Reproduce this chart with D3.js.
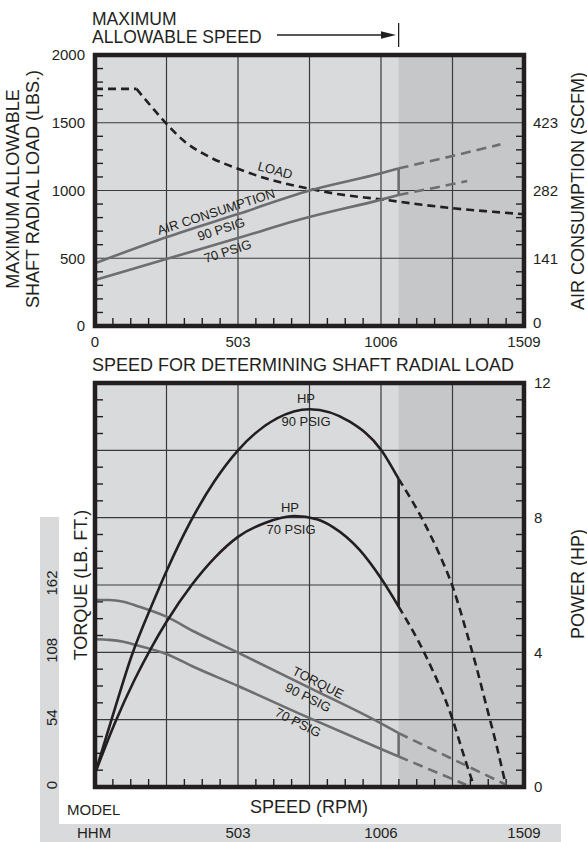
<!DOCTYPE html>
<html><head><meta charset="utf-8">
<script src="https://cdn.jsdelivr.net/npm/d3@7"></script>
<style>
body{margin:0;background:#fff}
svg{display:block}
text{font-family:"Liberation Sans",Arial,Helvetica,sans-serif;fill:#231f20}
</style>
</head><body><svg id="c" width="587" height="842"></svg>
<script>
// ---------- data ----------
const rpmTickLabels = [0, 503, 1006, 1509];
const loadTickLabels = [0, 500, 1000, 1500, 2000];
const scfmTickLabels = [0, 141, 282, 423];
const hpTickLabels = [0, 4, 8, 12];
const torqueTickLabels = [0, 54, 108, 162];
const modelRow = ["HHM", "503", "1006", "1509"];
const maxSpeed = 1068;

const loadFlatRpm = [0, 146];
const loadFlatVal = [1750, 1750];
const loadRpm = [146, 200, 250, 316, 400, 503, 600, 737, 850, 1006, 1150, 1258, 1400, 1509];
const loadVal = [1750, 1615, 1495, 1360, 1250, 1160, 1090, 1020, 975, 935, 895, 869, 843, 825];

const air90Rpm = [0, 251, 503, 755, 1006, 1068];
const air90Scfm = [130.6, 184.7, 233, 282, 318, 328];
const air90DashRpm = [1068, 1258, 1426];
const air90DashScfm = [328, 354, 378];
const air70Rpm = [0, 251, 503, 737, 1006, 1068];
const air70Scfm = [95.7, 139.4, 183, 224, 263, 272.7];
const air70DashRpm = [1068, 1258, 1309];
const air70DashScfm = [272.7, 295.5, 301.8];

const hp90Rpm = [0, 60, 129, 205, 251, 334, 420, 503, 640, 755, 896, 1006, 1068];
const hp90Val = [0.4, 2.05, 3.9, 5.5, 6.4, 7.85, 9.08, 10.0, 10.95, 11.22, 10.85, 10.02, 9.15];
const hp90DashRpm = [1068, 1153, 1212, 1258, 1307, 1342, 1377, 1412, 1441];
const hp90DashVal = [9.15, 7.93, 6.9, 5.95, 4.6, 3.55, 2.4, 1.25, 0.2];
const hp70Rpm = [0, 70, 140, 199, 251, 340, 420, 503, 600, 700, 780, 837, 930, 1006, 1068];
const hp70Val = [0.4, 1.9, 3.2, 4.15, 4.9, 6.0, 6.8, 7.43, 7.85, 8.05, 7.95, 7.72, 7.05, 6.2, 5.36];
const hp70DashRpm = [1068, 1165, 1258, 1295, 1331];
const hp70DashVal = [5.36, 3.87, 2.0, 1.0, 0.07];

const tq90Rpm = [0, 50, 100, 150, 251, 350, 503, 755, 1006, 1068];
const tq90Val = [150, 150, 148.5, 145, 136.6, 124.5, 107.8, 79.5, 51, 43.2];
const tq90DashRpm = [1068, 1446];
const tq90DashVal = [43.2, 1.8];
const tq70Rpm = [0, 50, 100, 150, 251, 350, 503, 737, 1006, 1068];
const tq70Val = [118.5, 118, 116.5, 113.5, 106.7, 96, 81, 57, 30.5, 24.5];
const tq70DashRpm = [1068, 1305];
const tq70DashVal = [24.5, 1.8];

// ---------- setup ----------
const svg = d3.select('#c');
const INK = '#231f20', GRAY = '#6d6e71';
const x = d3.scaleLinear().domain([0, 1509]).range([95, 524]);
const yLoad = d3.scaleLinear().domain([0, 2000]).range([326, 55]);
const yScfm = d3.scaleLinear().domain([0, 564]).range([326, 55]);
const yHp = d3.scaleLinear().domain([0, 12]).range([787, 383]);
const yTq = d3.scaleLinear().domain([0, 324]).range([787, 383]);

const xGrid = d3.range(1, 6).map(i => i * 1509 / 6);
const xMinor = d3.range(1, 24).filter(i => i % 4).map(i => i * 1509 / 24);

function panel(ys, hGrid, minor) {
  const top = ys.range()[1], bot = ys.range()[0];
  const g = svg.append('g');
  g.append('rect').attr('x', x(0)).attr('y', top).attr('width', x(1509) - x(0)).attr('height', bot - top).attr('fill', '#d9dadb');
  g.append('rect').attr('x', x(maxSpeed)).attr('y', top).attr('width', x(1509) - x(maxSpeed)).attr('height', bot - top).attr('fill', '#c6c7c9');
  g.selectAll('.vg').data(xGrid).join('line').attr('x1', d => x(d)).attr('x2', d => x(d)).attr('y1', top).attr('y2', bot).attr('stroke', '#3a3a3a').attr('stroke-width', 1.2);
  g.selectAll('.hg').data(hGrid).join('line').attr('x1', x(0)).attr('x2', x(1509)).attr('y1', d => ys(d)).attr('y2', d => ys(d)).attr('stroke', '#3a3a3a').attr('stroke-width', 1.2);
  g.selectAll('.lm').data(minor).join('line').attr('x1', x(0)).attr('x2', x(0) + 8).attr('y1', d => ys(d)).attr('y2', d => ys(d)).attr('stroke', INK).attr('stroke-width', 1.4);
  g.selectAll('.rm').data(minor).join('line').attr('x1', x(1509) - 8).attr('x2', x(1509)).attr('y1', d => ys(d)).attr('y2', d => ys(d)).attr('stroke', INK).attr('stroke-width', 1.4);
  g.selectAll('.bm').data(xMinor).join('line').attr('x1', d => x(d)).attr('x2', d => x(d)).attr('y1', bot - 8).attr('y2', bot).attr('stroke', INK).attr('stroke-width', 1.4);
}
function border(ys) {
  const top = ys.range()[1], bot = ys.range()[0];
  svg.append('rect').attr('x', x(0)).attr('y', top).attr('width', x(1509) - x(0)).attr('height', bot - top)
    .attr('fill', 'none').attr('stroke', INK).attr('stroke-width', 4.5);
}
function curve(xs, ys, xv, yv, color, dash, w, interp) {
  const pts = xv.map((v, i) => [v, yv[i]]);
  const line = d3.line().x(d => xs(d[0])).y(d => ys(d[1])).curve(interp || d3.curveMonotoneX);
  svg.append('path').attr('d', line(pts)).attr('fill', 'none').attr('stroke', color)
    .attr('stroke-width', w || 2.6).attr('stroke-dasharray', dash || null).attr('stroke-linecap', 'butt');
}
function vseg(xv, y1, y2, color) {
  svg.append('line').attr('x1', x(xv)).attr('x2', x(xv)).attr('y1', y1).attr('y2', y2).attr('stroke', color).attr('stroke-width', 2.6);
}
function label(txt, cx, cy, rot, size, anchor) {
  svg.append('text').attr('transform', `translate(${cx},${cy}) rotate(${rot || 0})`)
    .attr('text-anchor', anchor || 'middle').attr('font-size', size).text(txt);
}

// ---------- top panel ----------
panel(yLoad, [500, 1000, 1500], d3.range(100, 2000, 100).filter(v => v % 500));
curve(x, yLoad, loadFlatRpm, loadFlatVal, INK, '8,5', 2.6, d3.curveLinear);
curve(x, yLoad, loadRpm, loadVal, INK, '8,5', 2.6);
curve(x, yScfm, air90Rpm, air90Scfm, GRAY);
curve(x, yScfm, air70Rpm, air70Scfm, GRAY);
vseg(maxSpeed, yScfm(air90Scfm[air90Scfm.length - 1]), yScfm(air70Scfm[air70Scfm.length - 1]), GRAY);
curve(x, yScfm, air90DashRpm, air90DashScfm, GRAY, '10,6');
curve(x, yScfm, air70DashRpm, air70DashScfm, GRAY, '10,6');
border(yLoad);

label('LOAD', 274, 174.5, 15, 13);
label('AIR CONSUMPTION', 217.5, 216, -18, 13);
label('90 PSIG', 222.5, 233.5, -18, 13);
label('70 PSIG', 229, 255.5, -18, 13);

svg.selectAll('.tl').data(loadTickLabels).join('text').attr('x', 85).attr('y', d => yLoad(d)).attr('dy', '0.36em')
  .attr('text-anchor', 'end').attr('font-size', 15).text(d => d);
svg.selectAll('.tr').data(scfmTickLabels).join('text').attr('x', 533).attr('y', d => yScfm(d) - (d === 0 ? 3 : 0)).attr('dy', '0.36em')
  .attr('font-size', 15).text(d => d);
svg.selectAll('.tb').data(rpmTickLabels).join('text').attr('x', d => x(d)).attr('y', 347)
  .attr('text-anchor', 'middle').attr('font-size', 15).text(d => d);

label('MAXIMUM ALLOWABLE', 18.5, 189, -90, 18);
label('SHAFT RADIAL LOAD (LBS.)', 38.5, 189, -90, 18);
label('AIR CONSUMPTION (SCFM)', 584, 191, -90, 18);

svg.append('text').attr('x', 92).attr('y', 24.5).attr('font-size', 17.5).text('MAXIMUM');
svg.append('text').attr('x', 92).attr('y', 42.5).attr('font-size', 17.5).text('ALLOWABLE SPEED');
svg.append('line').attr('x1', 277).attr('x2', 384).attr('y1', 35).attr('y2', 35).attr('stroke', INK).attr('stroke-width', 1.3);
svg.append('path').attr('d', 'M381,31.3 L396,35 L381,38.7 Z').attr('fill', INK);
svg.append('line').attr('x1', x(maxSpeed)).attr('x2', x(maxSpeed)).attr('y1', 23).attr('y2', 47).attr('stroke', INK).attr('stroke-width', 1.3);

svg.append('text').attr('x', 92).attr('y', 371).attr('font-size', 18).text('SPEED FOR DETERMINING SHAFT RADIAL LOAD');

// ---------- bottom panel ----------
svg.append('rect').attr('x', 40).attr('y', 517).attr('width', 19).attr('height', 325).attr('fill', '#d9dadb');
svg.append('rect').attr('x', 40).attr('y', 824).attr('width', 521).attr('height', 18).attr('fill', '#d9dadb');

panel(yHp, [2, 4, 6, 8, 10], d3.range(0.5, 12, 0.5).filter(v => v % 2));
curve(x, yTq, tq90Rpm, tq90Val, GRAY);
curve(x, yTq, tq70Rpm, tq70Val, GRAY);
vseg(maxSpeed, yTq(tq90Val[tq90Val.length - 1]), yTq(tq70Val[tq70Val.length - 1]), GRAY);
curve(x, yTq, tq90DashRpm, tq90DashVal, GRAY, '10,6', 2.6, d3.curveLinear);
curve(x, yTq, tq70DashRpm, tq70DashVal, GRAY, '10,6', 2.6, d3.curveLinear);
curve(x, yHp, hp90Rpm, hp90Val, INK);
curve(x, yHp, hp70Rpm, hp70Val, INK);
vseg(maxSpeed, yHp(hp90Val[hp90Val.length - 1]), yHp(hp70Val[hp70Val.length - 1]), INK);
curve(x, yHp, hp90DashRpm, hp90DashVal, INK, '8,5');
curve(x, yHp, hp70DashRpm, hp70DashVal, INK, '8,5');
border(yHp);

label('HP', 306, 402.7, 0, 13);
label('90 PSIG', 306, 426, 0, 13);
label('HP', 290, 511.5, 0, 13);
label('70 PSIG', 291, 534, 0, 13);
label('TORQUE', 316, 686.5, 27, 13);
label('90 PSIG', 306, 701.5, 27, 13);
label('70 PSIG', 296, 726.5, 27, 13);

svg.selectAll('.hr').data(hpTickLabels).join('text').attr('x', 534).attr('y', d => yHp(d)).attr('dy', '0.36em')
  .attr('font-size', 15).text(d => d);
svg.selectAll('.tq').data(torqueTickLabels).join('text')
  .attr('transform', d => `translate(56.5,${yTq(d) - 2}) rotate(-90)`)
  .attr('text-anchor', 'middle').attr('font-size', 15).text(d => d);

label('TORQUE (LB. FT.)', 87, 585, -90, 18);
label('POWER (HP)', 584, 584, -90, 18);
label('SPEED (RPM)', 309, 813, 0, 18);
svg.append('text').attr('x', 67).attr('y', 815).attr('font-size', 15).text('MODEL');
svg.selectAll('.mr').data(modelRow).join('text')
  .attr('x', (d, i) => i === 0 ? 77 : x(rpmTickLabels[i]))
  .attr('y', 838).attr('text-anchor', (d, i) => i === 0 ? 'start' : 'middle')
  .attr('font-size', 15).text(d => d);
</script>
</body></html>
